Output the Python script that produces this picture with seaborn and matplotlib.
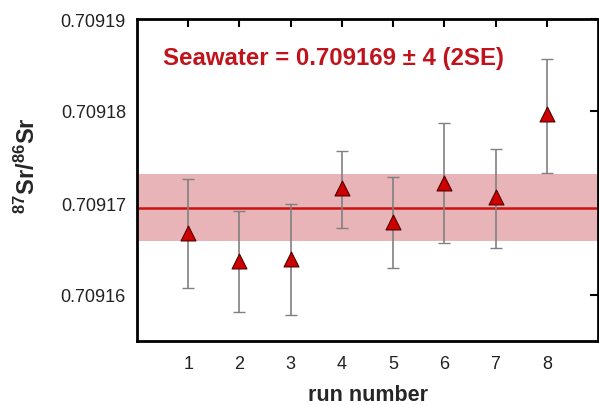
import matplotlib
matplotlib.use("Agg")
import matplotlib.pyplot as plt
import seaborn as sns
import pandas as pd

run = [1, 2, 3, 4, 5, 6, 7, 8]
ratio = [0.7091667, 0.7091637, 0.7091639, 0.7091716, 0.7091679, 0.7091722, 0.7091706, 0.7091797]
err_hi = [0.7091726, 0.7091691, 0.7091699, 0.7091756, 0.7091728, 0.7091787, 0.7091759, 0.7091857]
err_lo = [0.7091608, 0.7091582, 0.7091578, 0.7091673, 0.7091629, 0.7091656, 0.7091651, 0.7091733]
seawater_mean = 0.7091695
seawater_2se = 0.0000036
y_ticks = [0.70916, 0.70917, 0.70918, 0.70919]
y_ticklabels = ["0.70916", "0.70917", "0.70918", "0.70919"]

df = pd.DataFrame({"run": run, "ratio": ratio, "hi": err_hi, "lo": err_lo})

sns.set_theme(style="white")
plt.rcParams["font.family"] = ["Liberation Sans", "DejaVu Sans"]
plt.rcParams["mathtext.default"] = "regular"

fig = plt.figure(figsize=(5.99, 4.06), dpi=100)
ax = fig.add_axes([137/599, 1 - 342/406, (598 - 137)/599, (342 - 20)/406])

ax.axhspan(seawater_mean - seawater_2se, seawater_mean + seawater_2se,
           color="#e8b4b8", lw=0, zorder=1)
ax.axhline(seawater_mean, color="#cc1111", lw=1.8, zorder=2)

ax.errorbar(df["run"], df["ratio"],
            yerr=[df["ratio"] - df["lo"], df["hi"] - df["ratio"]],
            fmt="none", ecolor="#808080", elinewidth=1.2, capsize=4, capthick=1.0, zorder=3)
sns.scatterplot(data=df, x="run", y="ratio", marker="^", s=115, color="#cc0000",
                edgecolor="#550000", linewidth=0.8, ax=ax, zorder=4, legend=False)

ax.set_xlim(0, 9)
ax.set_ylim(0.709155, 0.70919)
ax.set_xticks(run)
ax.set_xticklabels([str(r) for r in run])
ax.set_yticks(y_ticks)
ax.set_yticklabels(y_ticklabels)

for s in ax.spines.values():
    s.set_visible(True)
    s.set_color("black")
    s.set_linewidth(2)
ax.tick_params(direction="in", length=6, width=1.5, top=True, right=True,
               labelsize=13, colors="black", pad=8)
ax.tick_params(axis="x", pad=10)
for lab in ax.get_xticklabels() + ax.get_yticklabels():
    lab.set_color("#222222")

ax.set_xlabel("run number", fontsize=15.5, fontweight="bold", labelpad=9)
ax.set_ylabel("$^{87}$Sr/$^{86}$Sr", fontsize=17, fontweight="bold")
ax.yaxis.set_label_coords(-0.21, (342 - 166) / 322)

ax.text(0.057, 0.88, "Seawater = 0.709169 ± 4 (2SE)", transform=ax.transAxes,
        color="#c0141c", fontsize=17.3, fontweight="bold", ha="left", va="center")

fig.savefig("out.png", dpi=100)
